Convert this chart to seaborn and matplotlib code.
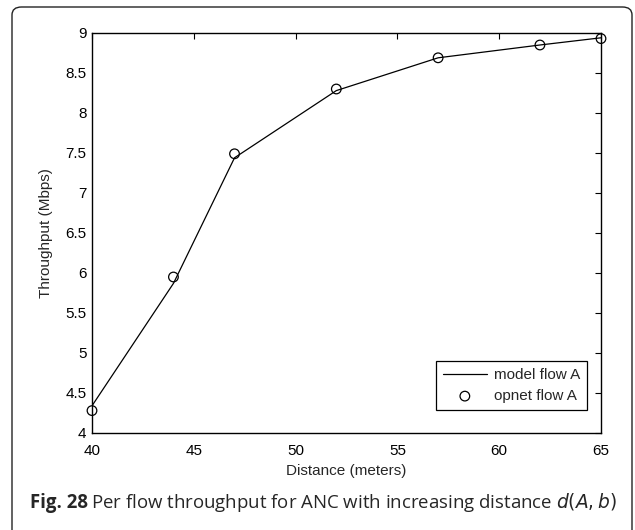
import matplotlib
matplotlib.use("Agg")
import matplotlib.pyplot as plt
from matplotlib.patches import FancyBboxPatch
import seaborn as sns
import pandas as pd

distance = [40, 44, 47, 52, 57, 62, 65]
model_flow_a = [4.34, 5.87, 7.44, 8.28, 8.69, 8.85, 8.94]
opnet_flow_a = [4.28, 5.95, 7.49, 8.30, 8.69, 8.85, 8.93]
x_ticks = [40, 45, 50, 55, 60, 65]
y_ticks = [4, 4.5, 5, 5.5, 6, 6.5, 7, 7.5, 8, 8.5, 9]

sns.set_theme(style="white")
plt.rcParams['font.family'] = ['Liberation Sans', 'DejaVu Sans']

df = pd.DataFrame({"distance": distance, "model": model_flow_a, "opnet": opnet_flow_a})

fig = plt.figure(figsize=(6.35, 5.3), dpi=100)
ax = fig.add_axes([92/635, 1-433/530, (601-92)/635, (433-33)/530])

sns.lineplot(data=df, x="distance", y="model", ax=ax, color="black", linewidth=0.9,
             label="model flow A")
sns.scatterplot(data=df, x="distance", y="opnet", ax=ax, marker="o", s=48,
                facecolor="none", edgecolor="black", linewidth=0.9, label="opnet flow A",
                zorder=3, clip_on=False)

ax.set_xlim(40, 65)
ax.set_ylim(4, 9)
ax.set_xticks(x_ticks)
ax.set_yticks(y_ticks)
ax.set_xticklabels([str(v) for v in x_ticks])
ax.set_yticklabels([("%g" % v) for v in y_ticks])
ax.tick_params(direction="in", length=4, width=0.8, top=True, right=True,
               labelsize=11, colors="black", pad=4)
ax.tick_params(axis="x", pad=8)
for s in ax.spines.values():
    s.set_color("black")
    s.set_linewidth(1.0)
ax.set_xlabel("Distance (meters)", fontsize=11, labelpad=4)
ax.set_ylabel("Throughput (Mbps)", fontsize=11, labelpad=9)

leg = ax.legend(loc="lower right", bbox_to_anchor=(0.9725, 0.0575), borderaxespad=0,
                frameon=True, fancybox=False, fontsize=11,
                edgecolor="black", handlelength=2.9, handletextpad=0.45,
                borderpad=0.45, labelspacing=0.45)
leg.get_frame().set_linewidth(0.9)
leg.get_frame().set_alpha(1)

# outer rounded frame
frame = FancyBboxPatch((12/635, -0.05), (632-12)/635, 1 - 7/530 + 0.05,
                       boxstyle="round,pad=0,rounding_size=0.015",
                       transform=fig.transFigure, fill=False, edgecolor="#222222",
                       linewidth=1.0, clip_on=False)
fig.patches.append(frame)

cap_font = ["Open Sans", "DejaVu Sans"]
fig.text(30/635, 1-508/530, "Fig. 28", fontsize=13.4, fontweight="bold",
         family=cap_font, va="baseline", ha="left")
fig.text(91/635, 1-508/530,
         r"Per flow throughput for ANC with increasing distance $\mathit{d}(\mathit{A}, \mathit{b})$",
         fontsize=13.4, family=cap_font, va="baseline", ha="left")

fig.savefig("out.png", dpi=100)
